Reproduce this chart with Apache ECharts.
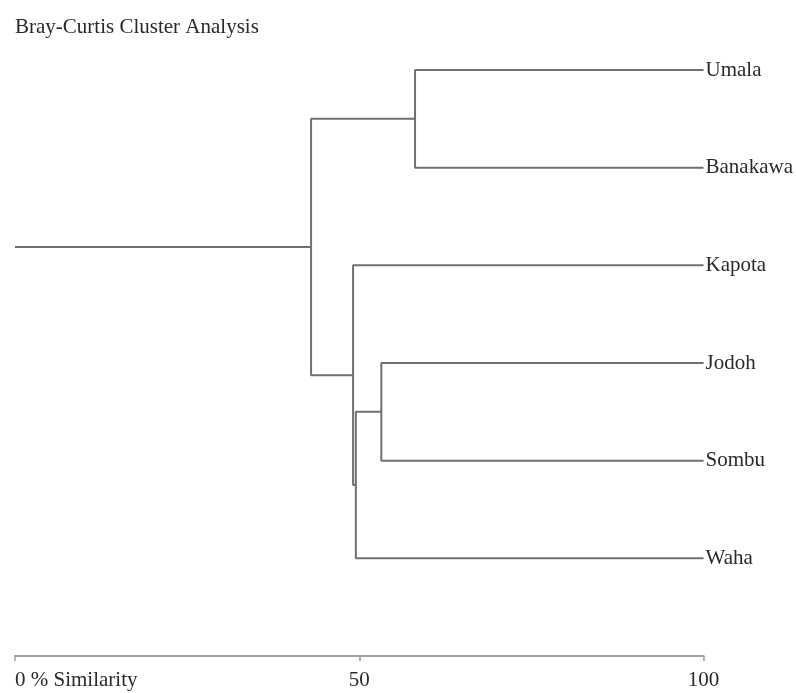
<!DOCTYPE html>
<html>
<head>
<meta charset="utf-8">
<script src="https://cdn.jsdelivr.net/npm/echarts@6/dist/echarts.min.js"></script>
<style>html,body{margin:0;padding:0;background:#fff}#c{width:796px;height:693px}</style>
</head>
<body>
<div id="c"></div>
<script>
// Leaves (top to bottom)
const leaves = ['Umala', 'Banakawa', 'Kapota', 'Jodoh', 'Sombu', 'Waha'];
// Merge steps: node ids 0..5 are leaves, 6.. are clusters in merge order
const mergeLeft = [0, 3, 7, 2, 6];
const mergeRight = [1, 4, 5, 8, 9];
const mergeSimilarity = [58.1, 53.2, 49.5, 49.1, 43.0];
const rootStart = 0;
const leafSimilarity = 100;
const axisTicks = [0, 50, 100];
const axisTickLabels = ['0 % Similarity', '50', '100'];

const font = 'Liberation Serif, Times New Roman, serif';
const nodes = leaves.map((n, i) => ({ x: leafSimilarity, y: i }));
const series = [];
const lineStyle = { color: '#707070', width: 2 };
mergeLeft.forEach((a, i) => {
  const b = mergeRight[i];
  const s = mergeSimilarity[i];
  const A = nodes[a], B = nodes[b];
  series.push({
    type: 'line', silent: true, showSymbol: false, animation: false,
    lineStyle, data: [[A.x, A.y], [s, A.y], [s, B.y], [B.x, B.y]]
  });
  nodes.push({ x: s, y: (A.y + B.y) / 2 });
});
const root = nodes[nodes.length - 1];
series.push({
  type: 'line', silent: true, showSymbol: false, animation: false,
  lineStyle, data: [[rootStart, root.y], [root.x, root.y]]
});

const chart = echarts.init(document.getElementById('c'));
chart.setOption({
  backgroundColor: '#fff',
  animation: false,
  title: {
    text: 'Bray-Curtis Cluster Analysis', left: 10, top: 12,
    textStyle: { fontFamily: font, fontSize: 21, fontWeight: 'normal', color: '#2a2a2a' }
  },
  grid: { left: 15, right: 90, top: 70, bottom: 37, containLabel: false },
  xAxis: {
    type: 'value', min: 0, max: 100, interval: 50, position: 'bottom',
    axisLine: { show: true, onZero: false, lineStyle: { color: '#a0a0a0', width: 2 } },
    axisTick: { show: true, length: 5, lineStyle: { color: '#a0a0a0', width: 1.5 } },
    splitLine: { show: false },
    axisLabel: {
      fontFamily: font, fontSize: 21, color: '#2a2a2a', margin: 14,
      alignMinLabel: 'left', alignMaxLabel: 'center',
      formatter: v => axisTickLabels[axisTicks.indexOf(v)] ?? ''
    }
  },
  yAxis: {
    type: 'value', min: 0, max: 6, interval: 1, inverse: true, position: 'right',
    axisLine: { show: false }, axisTick: { show: false }, splitLine: { show: false },
    axisLabel: {
      fontFamily: font, fontSize: 21, color: '#2a2a2a', margin: 2, align: 'left',
      formatter: v => leaves[v] ?? ''
    }
  },
  series
});
</script>
</body>
</html>
